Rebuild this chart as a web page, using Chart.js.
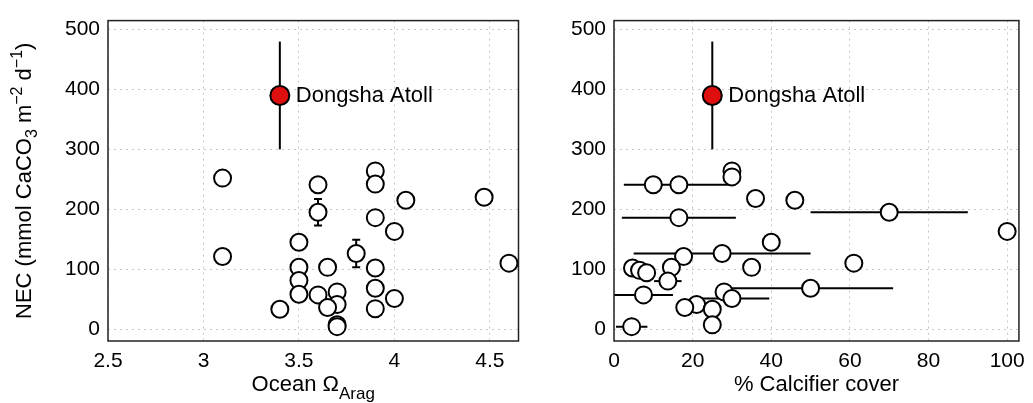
<!DOCTYPE html>
<html><head><meta charset="utf-8">
<script src="https://cdn.jsdelivr.net/npm/chart.js@4"></script>
<style>
body{margin:0;background:#fff;width:1033px;height:403px;overflow:hidden;position:relative}
.box{position:absolute;top:0;height:403px}
</style></head><body>
<div class="box" style="left:0;width:530px"><canvas id="left"></canvas></div>
<div class="box" style="left:530px;width:503px"><canvas id="right"></canvas></div>
<script>
// left panel: ocean aragonite saturation vs NEC
const omegaX = [3.1,3.1,3.6,3.6,3.9,3.9,4.06,4.47,3.9,4.0,3.5,3.8,4.6,3.5,3.65,3.9,3.5,3.5,3.6,3.7,3.7,3.65,3.9,4.0,3.4,3.9,3.7,3.7];
const omegaNec = [252,121,241,195,264,242,215,220,186,163,145,126,110,103,103,102,81,58,57,62,41,36,68,51,33,34,7,4];
const omegaNecErr = [0,0,0,22,0,0,0,0,0,0,0,23,0,0,0,0,0,0,0,0,0,0,0,0,0,0,0,0];
// right panel: calcifier cover vs NEC
const coverX = [30,30,10,16.5,36,46,70,16.5,100,40,27.5,17.7,61,35,14.6,4.7,6.5,8.3,13.7,7.5,50,28,30,21,18,25,25,4.5];
const coverNec = [264,254,241,241,218,215,195,186,163,145,126,121,110,103,103,102,98,94,80,57,68,62,51,41,36,33,7,4];
const coverErr = [0,0,0,14,0,0,20,14.5,0,0,22.5,0,0,0,0,0,0,0,3.5,7.5,21,0,9.5,0,0,0,0,4];
const dongsha = {omega:3.4, cover:25, nec:390, err:90, label:'Dongsha Atoll'};
const yTicks = [0,100,200,300,400,500];

const FONT = '"Liberation Sans", Arial, sans-serif';

function errPlugin(xErr, yErr) {
  return {
    id: 'errbars',
    beforeDatasetsDraw(chart) {
      const {ctx, scales:{x, y}} = chart;
      const ds = chart.data.datasets[0].data;
      ctx.save();
      ctx.strokeStyle = '#000';
      ctx.lineWidth = 2;
      ds.forEach((p, i) => {
        if (xErr && xErr[i]) {
          ctx.beginPath();
          ctx.moveTo(x.getPixelForValue(p.x - xErr[i]), y.getPixelForValue(p.y));
          ctx.lineTo(x.getPixelForValue(p.x + xErr[i]), y.getPixelForValue(p.y));
          ctx.stroke();
        }
        if (yErr && yErr[i]) {
          const px = x.getPixelForValue(p.x);
          const y1 = y.getPixelForValue(p.y - yErr[i]), y2 = y.getPixelForValue(p.y + yErr[i]);
          ctx.beginPath();
          ctx.moveTo(px, y1); ctx.lineTo(px, y2);
          ctx.moveTo(px - 4, y1); ctx.lineTo(px + 4, y1);
          ctx.moveTo(px - 4, y2); ctx.lineTo(px + 4, y2);
          ctx.stroke();
        }
      });
      // Dongsha error bar
      const d = chart.data.datasets[1].data[0];
      const px = x.getPixelForValue(d.x);
      ctx.beginPath();
      ctx.moveTo(px, y.getPixelForValue(d.y - dongsha.err));
      ctx.lineTo(px, y.getPixelForValue(d.y + dongsha.err));
      ctx.stroke();
      ctx.restore();
    },
    afterDraw(chart) {
      const {ctx, scales:{x, y}, chartArea:a} = chart;
      const d = chart.data.datasets[1].data[0];
      ctx.save();
      ctx.fillStyle = '#000';
      ctx.font = '22px ' + FONT;
      ctx.textBaseline = 'middle';
      ctx.fillText(dongsha.label, x.getPixelForValue(d.x) + 16, y.getPixelForValue(d.y));
      ctx.strokeStyle = '#222';
      ctx.lineWidth = 1.5;
      ctx.strokeRect(a.left, a.top, a.right - a.left, a.bottom - a.top);
      ctx.restore();
    }
  };
}

function titlePlugin(isLeft) {
  return {
    id: 'titles',
    afterDraw(chart) {
      const {ctx, chartArea:a} = chart;
      ctx.save();
      ctx.fillStyle = '#000';
      ctx.textBaseline = 'alphabetic';
      const cx = (a.left + a.right) / 2;
      if (isLeft) {
        ctx.font = '22px ' + FONT;
        const t1 = 'Ocean \u03A9', w1 = ctx.measureText(t1).width;
        ctx.font = '17px ' + FONT;
        const w2 = ctx.measureText('Arag').width;
        let sx = cx - (w1 + w2) / 2;
        ctx.font = '22px ' + FONT;
        ctx.fillText(t1, sx, 391);
        ctx.font = '17px ' + FONT;
        ctx.fillText('Arag', sx + w1, 399);
        // y title
        ctx.translate(31, (a.top + a.bottom) / 2);
        ctx.rotate(-Math.PI / 2);
        const parts = [['NEC (mmol CaCO',22,0],['3',16,6],[' m',22,0],['\u22122',16,-9],[' d',22,0],['\u22121',16,-9],[')',22,0]];
        let tw = 0;
        parts.forEach(p => { ctx.font = p[1] + 'px ' + FONT; tw += ctx.measureText(p[0]).width; });
        let px = -tw / 2;
        parts.forEach(p => { ctx.font = p[1] + 'px ' + FONT; ctx.fillText(p[0], px, p[2]); px += ctx.measureText(p[0]).width; });
      } else {
        ctx.font = '22px ' + FONT;
        ctx.textAlign = 'center';
        ctx.fillText('% Calcifier cover', cx, 391);
      }
      ctx.restore();
    }
  };
}

function makeChart(id, xs, xOpts, yWidth, padRight, plugin, titles) {
  const pts = xs.data.map((v, i) => ({x: v, y: xs.nec[i]}));
  const tickFont = {size: 21, family: FONT};
  return new Chart(document.getElementById(id), {
    type: 'scatter',
    data: {
      datasets: [
        {data: pts, pointRadius: 8.5, pointBorderWidth: 2, borderColor: '#000', backgroundColor: '#fff', pointHoverRadius: 8.5},
        {data: [{x: xs.dx, y: dongsha.nec}], pointRadius: 9.5, pointBorderWidth: 2, borderColor: '#000', backgroundColor: '#dd0f0f'}
      ]
    },
    options: {
      responsive: true, maintainAspectRatio: false, animation: false,
      layout: {padding: {top: 12, right: padRight, left: 0, bottom: 0}},
      plugins: {legend: {display: false}, tooltip: {enabled: false}},
      scales: {
        x: Object.assign({
          type: 'linear',
          grid: {color: '#c8c8c8', drawTicks: false},
          border: {display: false, dash: [2, 4]},
          ticks: {color: '#000', font: tickFont, padding: 8},
          afterFit: s => { s.height = 62; }
        }, xOpts),
        y: {
          min: -20, max: 515,
          afterBuildTicks: s => { s.ticks = yTicks.map(v => ({value: v})); },
          grid: {color: '#c8c8c8', drawTicks: false},
          border: {display: false, dash: [2, 4]},
          ticks: {color: '#000', font: tickFont, padding: 8},
          afterFit: s => { s.width = yWidth; }
        }
      }
    },
    plugins: [plugin, titles]
  });
}

makeChart('left', {data: omegaX, nec: omegaNec, dx: dongsha.omega},
  {min: 2.5, max: 4.65, afterBuildTicks: s => { s.ticks = [2.5,3,3.5,4,4.5].map(v => ({value: v})); },
   ticks: {color: '#000', font: {size: 21, family: FONT}, padding: 8, callback: v => String(v)}},
  108, 0, errPlugin(null, omegaNecErr), titlePlugin(true));

makeChart('right', {data: coverX, nec: coverNec, dx: dongsha.cover},
  {min: 0, max: 103, afterBuildTicks: s => { s.ticks = [0,20,40,60,80,100].map(v => ({value: v})); }},
  84, 11, errPlugin(coverErr, null), titlePlugin(false));
</script>
</body></html>
